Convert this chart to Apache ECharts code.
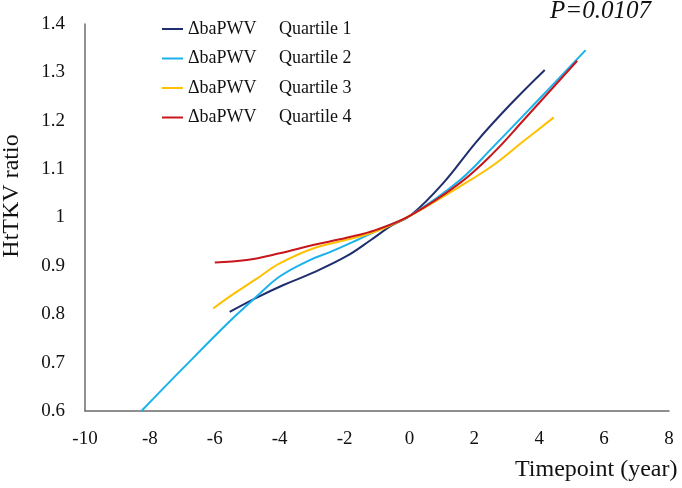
<!DOCTYPE html>
<html>
<head>
<meta charset="utf-8">
<script src="https://cdn.jsdelivr.net/npm/echarts@6/dist/echarts.min.js"></script>
<style>html,body{margin:0;padding:0;background:#fff}#c{width:682px;height:488px}</style>
</head>
<body>
<div id="c"></div>
<script>
const seriesNames = ['Quartile 1', 'Quartile 2', 'Quartile 3', 'Quartile 4'];
const seriesColors = ['#1f2e6e', '#1ab2ec', '#ffc000', '#c8161d'];
const xTicks = { min: -10, max: 8, interval: 2 };
const yTicks = { min: 0.6, max: 1.4, interval: 0.1 };

const q1 = [[-5.54,0.805],[-4.72,0.834],[-3.9,0.860],[-2.97,0.886],[-1.94,0.920],[-1.2,0.953],[-0.56,0.983],[0.05,1.005],[1.04,1.071],[2.07,1.157],[3.1,1.233],[4.17,1.305]];
const q2 = [[-8.26,0.600],[-7.0,0.687],[-5.5,0.788],[-4.72,0.836],[-4.0,0.878],[-3.07,0.912],[-2.4,0.930],[-1.63,0.953],[-0.7,0.982],[0.05,1.005],[1.55,1.077],[2.58,1.146],[4.0,1.245],[5.43,1.346]];
const q3 = [[-6.05,0.812],[-5.4,0.843],[-4.72,0.873],[-4.0,0.905],[-2.97,0.936],[-1.94,0.954],[-1.0,0.972],[0.05,1.005],[1.55,1.064],[2.58,1.108],[3.5,1.157],[4.45,1.207]];
const q4 = [[-6.0,0.907],[-5.02,0.912],[-4.0,0.926],[-2.97,0.943],[-1.94,0.958],[-1.0,0.975],[0.05,1.005],[1.55,1.071],[2.58,1.133],[3.5,1.200],[5.17,1.324]];
const allData = [q1, q2, q3, q4];

const font = '"Liberation Serif", "Times New Roman", serif';
const chart = echarts.init(document.getElementById('c'));
chart.setOption({
  animation: false,
  backgroundColor: '#fff',
  grid: { left: 85, right: 13, top: 24, bottom: 77, containLabel: false },
  legend: {
    orient: 'vertical', left: 162, top: 19, itemGap: 9.5, padding: 0,
    itemWidth: 21, itemHeight: 2, icon: 'rect',
    data: seriesNames,
    formatter: n => '{a|ΔbaPWV}{b|' + n + '}',
    textStyle: {
      fontFamily: font, fontSize: 18, color: '#111', lineHeight: 20,
      rich: {
        a: { fontFamily: font, fontSize: 18, color: '#111', width: 91 },
        b: { fontFamily: font, fontSize: 18, color: '#111' }
      }
    }
  },
  xAxis: {
    type: 'value', min: xTicks.min, max: xTicks.max, interval: xTicks.interval,
    axisLine: { show: true, onZero: false, lineStyle: { color: '#6b6b6b', width: 1.5 } },
    axisTick: { show: false },
    splitLine: { show: false },
    axisLabel: { fontFamily: font, fontSize: 19, color: '#111', margin: 19 }
  },
  yAxis: {
    type: 'value', min: yTicks.min, max: yTicks.max, interval: yTicks.interval,
    axisLine: { show: true, onZero: false, lineStyle: { color: '#6b6b6b', width: 1.5 } },
    axisTick: { show: false },
    splitLine: { show: false },
    axisLabel: { fontFamily: font, fontSize: 19, color: '#111', margin: 20,
      formatter: v => String(Math.round(v * 10) / 10) }
  },
  graphic: [
    { type: 'text', x: 12, y: 196, rotation: Math.PI / 2,
      style: { text: 'HtTKV ratio', font: '24px ' + font, fill: '#111', textAlign: 'center', textVerticalAlign: 'middle' } },
    { type: 'text', x: 515, y: 470,
      style: { text: 'Timepoint (year)', font: '24px ' + font, fill: '#111', textAlign: 'left', textVerticalAlign: 'middle' } },
    { type: 'text', x: 550, y: 11,
      style: { text: 'P=0.0107', font: 'italic 25px ' + font, fill: '#111', textAlign: 'left', textVerticalAlign: 'middle' } }
  ],
  series: allData.map((d, i) => ({
    name: seriesNames[i], type: 'line', data: d,
    smooth: 0.4, showSymbol: false, symbol: 'none',
    lineStyle: { color: seriesColors[i], width: 2 },
    itemStyle: { color: seriesColors[i] }
  }))
});
</script>
</body>
</html>
